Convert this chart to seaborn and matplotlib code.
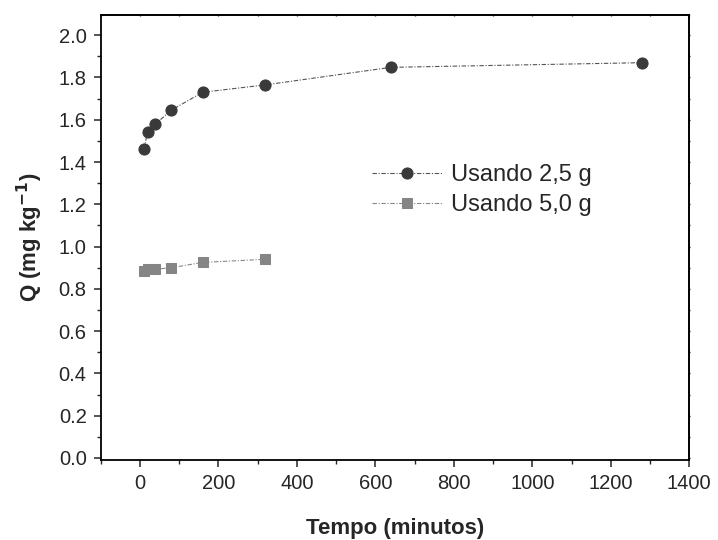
import numpy as np
import pandas as pd
import matplotlib
matplotlib.use("Agg")
import matplotlib.pyplot as plt
import seaborn as sns
from matplotlib.ticker import MultipleLocator, FormatStrFormatter

# dados
tempo_25 = [10, 20, 40, 80, 160, 320, 640, 1280]
q_25 = [1.46, 1.54, 1.58, 1.645, 1.73, 1.765, 1.848, 1.87]
tempo_50 = [10, 20, 40, 80, 160, 320]
q_50 = [0.885, 0.893, 0.893, 0.90, 0.925, 0.94]
rotulos = ["Usando 2,5 g", "Usando 5,0 g"]

sns.set_style("ticks")
plt.rcParams["font.family"] = ["Liberation Sans", "DejaVu Sans"]

fig = plt.figure(figsize=(7.18, 5.4), dpi=100)
ax = fig.add_axes([0.140, 0.148, 0.820, 0.824])

traco = (0, (4, 1.5, 1, 1.5))
sns.lineplot(x=tempo_25, y=q_25, ax=ax, sort=False, color="#555555",
             linestyle=traco, linewidth=0.8,
             marker="o", markersize=8, markerfacecolor="#3a3a3a",
             markeredgecolor="#3a3a3a", label=rotulos[0])
sns.lineplot(x=tempo_50, y=q_50, ax=ax, sort=False, color="#888888",
             linestyle=traco, linewidth=0.8,
             marker="s", markersize=6.5, markerfacecolor="#858585",
             markeredgecolor="#858585", label=rotulos[1])

ax.set_xlim(-100, 1400)
ax.set_ylim(-0.01, 2.095)
ax.xaxis.set_major_locator(MultipleLocator(200))
ax.xaxis.set_minor_locator(MultipleLocator(100))
ax.yaxis.set_major_locator(MultipleLocator(0.2))
ax.yaxis.set_minor_locator(MultipleLocator(0.1))
ax.yaxis.set_major_formatter(FormatStrFormatter("%.1f"))

for s in ax.spines.values():
    s.set_linewidth(1.3)
    s.set_color("black")
    s.set_visible(True)

# ticks principais para fora (esquerda / baixo)
ax.tick_params(which="major", direction="out", length=5, width=1.1,
               labelsize=14.5, pad=5)
ax.tick_params(which="minor", direction="out", length=3, width=1.0)
# marcas bem curtas no topo e na direita
ax2 = ax.secondary_xaxis("top")
ax2.xaxis.set_major_locator(MultipleLocator(100))
ax2.tick_params(direction="inout", length=2, width=1.0, labeltop=False)
ax2.spines["top"].set_linewidth(1.3)
ax3 = ax.secondary_yaxis("right")
ax3.yaxis.set_major_locator(MultipleLocator(0.1))
ax3.tick_params(direction="inout", length=2, width=1.0, labelright=False)
ax3.spines["right"].set_linewidth(1.3)

ax.set_xlabel("Tempo (minutos)", fontsize=16, fontweight="bold", labelpad=18)
ax.set_ylabel("Q (mg kg$^{\\mathbf{-1}}$)", fontsize=16, fontweight="bold", labelpad=10)

ax.legend(loc="center left", bbox_to_anchor=(0.425, 0.607), frameon=False,
          fontsize=17, handlelength=3.0, handletextpad=0.35, labelspacing=0.35)

fig.savefig("out.png", dpi=100)
